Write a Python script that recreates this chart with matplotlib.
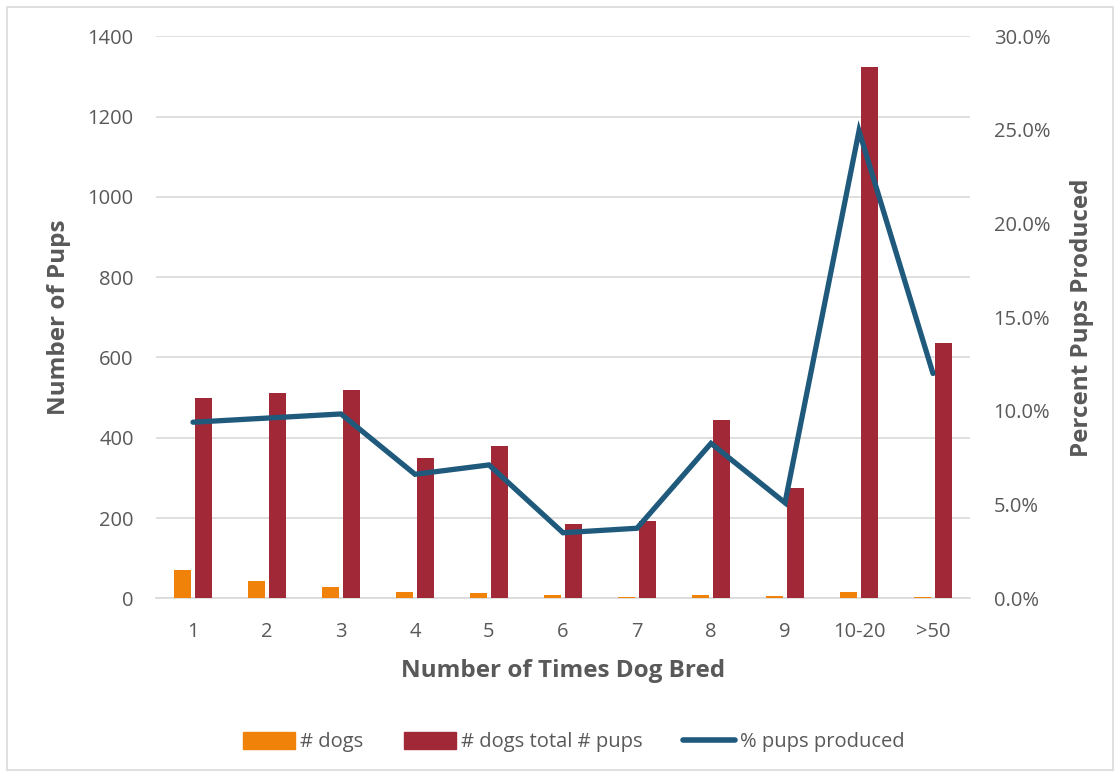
import matplotlib
matplotlib.use("Agg")
import matplotlib.pyplot as plt
from matplotlib.ticker import FuncFormatter, MultipleLocator
from matplotlib.patches import Rectangle
from matplotlib.lines import Line2D
import numpy as np

categories = ["1", "2", "3", "4", "5", "6", "7", "8", "9", "10-20", ">50"]
num_dogs = [70, 42, 27, 15, 13, 7, 4, 8, 6, 16, 2]
total_pups = [500, 511, 520, 349, 379, 184, 193, 443, 275, 1324, 635]
pct_pups = [9.40, 9.62, 9.84, 6.62, 7.12, 3.50, 3.74, 8.27, 5.10, 24.95, 12.00]

plt.rcParams['font.family'] = ['Open Sans', 'DejaVu Sans']
tick_color = '#595959'

fig = plt.figure(figsize=(11.2, 7.77), dpi=100)
fig.patches.append(Rectangle((7/1120, 7/777), 1 - 14/1120, 1 - 14/777,
                             transform=fig.transFigure, fill=False,
                             edgecolor='#D9D9D9', linewidth=1.2))
ax = fig.add_axes([156/1120, 1 - 598.3/777, (970-156)/1120, (598.3-36.3)/777])
ax2 = ax.twinx()

x = np.arange(len(categories))
w = 0.23
off = 0.142
ax.bar(x - off, num_dogs, width=w, color='#F0820A', zorder=3, label='# dogs')
ax.bar(x + off, total_pups, width=w, color='#A02837', zorder=3, label='# dogs total # pups')
ax2.plot(x, pct_pups, color='#1F5A7D', linewidth=3.8, solid_capstyle='round',
         solid_joinstyle='miter', zorder=4, label='% pups produced')

ax.set_xlim(-0.5, len(categories) - 0.5)
ax.set_ylim(0, 1400)
ax.yaxis.set_major_locator(MultipleLocator(200))
ax2.set_ylim(0, 30)
ax2.yaxis.set_major_locator(MultipleLocator(5))
ax2.yaxis.set_major_formatter(FuncFormatter(lambda v, p: f"{v:.1f}%"))

ax.set_xticks(x)
ax.set_xticklabels(categories)
ax.grid(axis='y', color='#D9D9D9', linewidth=1.2, zorder=0)
ax.set_axisbelow(True)

for a in (ax, ax2):
    for s in a.spines.values():
        s.set_visible(False)
ax.spines['bottom'].set_visible(True)
ax.spines['bottom'].set_color('#D9D9D9')
ax.spines['bottom'].set_linewidth(1.2)

ax.tick_params(axis='both', length=0, labelsize=14.5, labelcolor=tick_color)
ax.tick_params(axis='y', pad=16)
ax.tick_params(axis='x', pad=17)
ax2.tick_params(axis='y', length=0, labelsize=14.5, labelcolor=tick_color, pad=17)

ax.set_ylabel('Number of Pups', fontsize=17.5, fontweight='bold', color=tick_color, labelpad=12)
ax2.set_ylabel('Percent Pups Produced', fontsize=17.5, fontweight='bold', color=tick_color, labelpad=14)
ax.set_xlabel('Number of Times Dog Bred', fontsize=17.5, fontweight='bold', color=tick_color, labelpad=12)

handles = [Rectangle((0, 0), 1, 1, color='#F0820A'),
           Rectangle((0, 0), 1, 1, color='#A02837'),
           Line2D([0], [0], color='#1F5A7D', linewidth=4, solid_capstyle='round')]
labels = ['# dogs', '# dogs total # pups', '% pups produced']
fig.legend(handles, labels, loc='center', bbox_to_anchor=(574/1120, 1 - 742/777),
           ncol=3, frameon=False, fontsize=14.5, labelcolor=tick_color,
           handlelength=2.6, handleheight=0.9, handletextpad=0.25, columnspacing=2.0)

fig.savefig('out.png', dpi=100)
